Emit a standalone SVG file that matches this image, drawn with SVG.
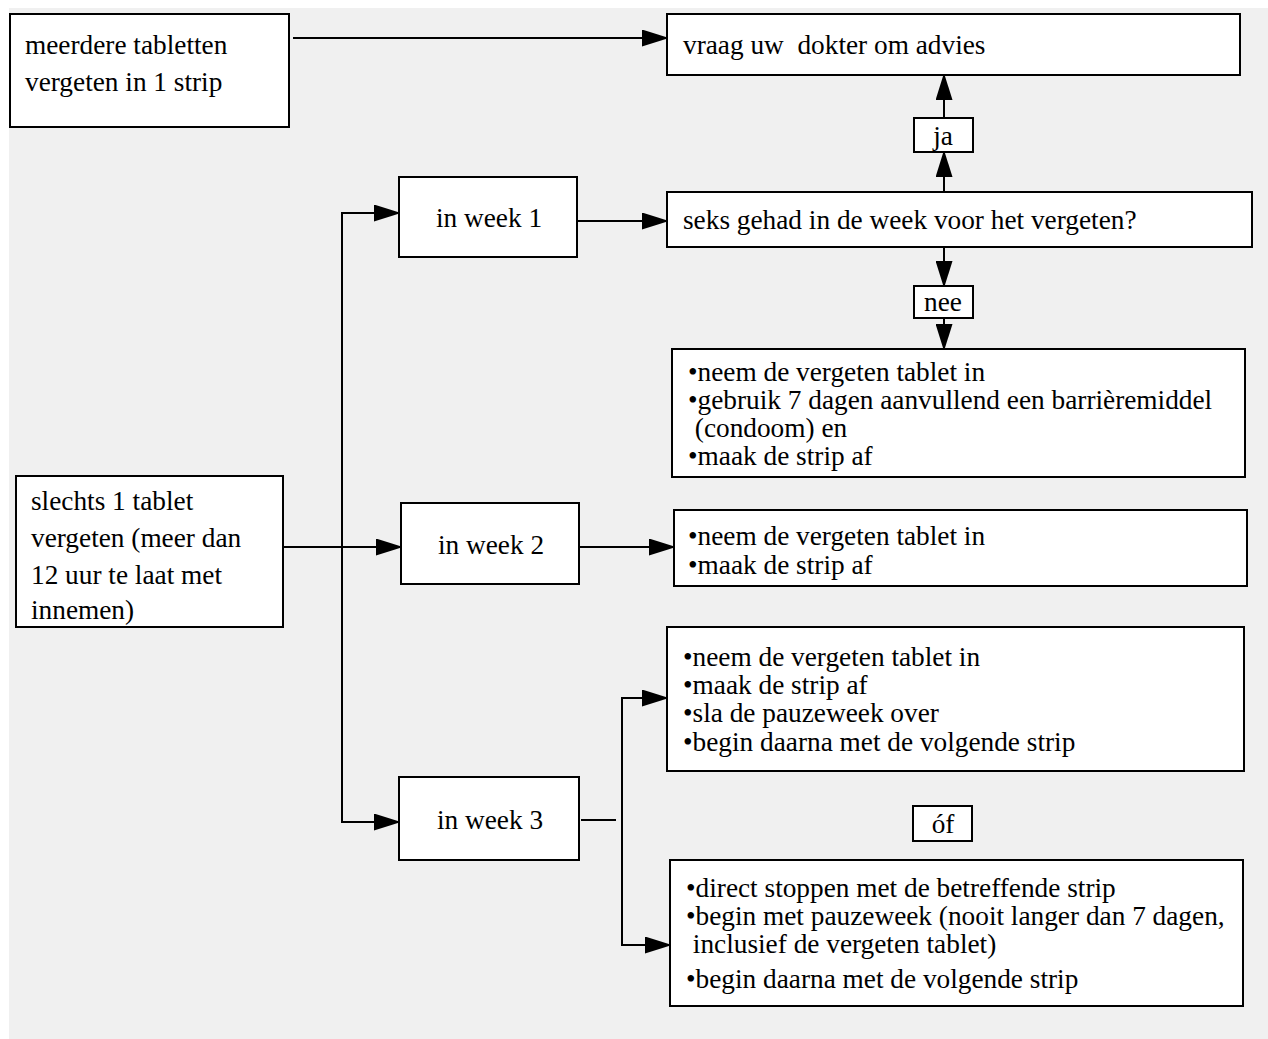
<svg xmlns="http://www.w3.org/2000/svg" width="1268" height="1039" viewBox="0 0 1268 1039">
<style>
.box{fill:#fff;stroke:#000;stroke-width:2}
.t{font-family:"Liberation Serif","Times New Roman",serif;font-size:27.3px;fill:#000}
.c{text-anchor:middle}
.ln{fill:none;stroke:#000;stroke-width:2}
</style>
<defs>
<marker id="ah" markerUnits="userSpaceOnUse" markerWidth="27" markerHeight="17" refX="25" refY="8.5" orient="auto">
<path d="M0,0 L27,8.5 L0,17 z" fill="#000"/>
</marker>
</defs>
<rect x="9" y="8" width="1259" height="1031" fill="#f0f0f0"/>
<g id="connectors">
<line class="ln" x1="293" y1="38" x2="667" y2="38" marker-end="url(#ah)"/>
<line class="ln" x1="944" y1="192" x2="944" y2="152" marker-end="url(#ah)"/>
<line class="ln" x1="944" y1="118" x2="944" y2="75" marker-end="url(#ah)"/>
<line class="ln" x1="944" y1="247" x2="944" y2="286" marker-end="url(#ah)"/>
<line class="ln" x1="944" y1="318" x2="944" y2="349" marker-end="url(#ah)"/>
<line class="ln" x1="577" y1="221" x2="667" y2="221" marker-end="url(#ah)"/>
<line class="ln" x1="283" y1="547" x2="401" y2="547" marker-end="url(#ah)"/>
<line class="ln" x1="342" y1="213" x2="342" y2="823"/>
<line class="ln" x1="341" y1="213" x2="399" y2="213" marker-end="url(#ah)"/>
<line class="ln" x1="341" y1="822" x2="399" y2="822" marker-end="url(#ah)"/>
<line class="ln" x1="579" y1="547" x2="674" y2="547" marker-end="url(#ah)"/>
<line class="ln" x1="581" y1="820" x2="616" y2="820"/>
<line class="ln" x1="622" y1="698" x2="622" y2="945"/>
<line class="ln" x1="621" y1="698" x2="667" y2="698" marker-end="url(#ah)"/>
<line class="ln" x1="621" y1="945" x2="670" y2="945" marker-end="url(#ah)"/>
</g>
<g id="meerdere">
<rect class="box" x="10" y="14" width="279" height="113"/>
<text class="t" x="25" y="54">meerdere tabletten</text>
<text class="t" x="25" y="91">vergeten in 1 strip</text>
</g>
<g id="dokter">
<rect class="box" x="667" y="14" width="573" height="61"/>
<text class="t" x="683" y="54" xml:space="preserve">vraag uw  dokter om advies</text>
</g>
<g id="ja">
<rect class="box" x="914" y="118" width="59" height="34"/>
<text class="t c" x="943" y="145">ja</text>
</g>
<g id="seks">
<rect class="box" x="667" y="192" width="585" height="55"/>
<text class="t" x="683" y="229">seks gehad in de week voor het vergeten?</text>
</g>
<g id="week1">
<rect class="box" x="399" y="177" width="178" height="80"/>
<text class="t c" x="489" y="227">in week 1</text>
</g>
<g id="nee">
<rect class="box" x="914" y="286" width="59" height="32"/>
<text class="t c" x="943" y="311">nee</text>
</g>
<g id="week1-nee">
<rect class="box" x="672" y="349" width="573" height="128"/>
<text class="t" x="688" y="381">•neem de vergeten tablet in</text>
<text class="t" x="688" y="409">•gebruik 7 dagen aanvullend een barrièremiddel</text>
<text class="t" x="688" y="437" xml:space="preserve"> (condoom) en</text>
<text class="t" x="688" y="465">•maak de strip af</text>
</g>
<g id="slechts">
<rect class="box" x="16" y="476" width="267" height="151"/>
<text class="t" x="31" y="510">slechts 1 tablet</text>
<text class="t" x="31" y="547">vergeten (meer dan</text>
<text class="t" x="31" y="584">12 uur te laat met</text>
<text class="t" x="31" y="619">innemen)</text>
</g>
<g id="week2">
<rect class="box" x="401" y="503" width="178" height="81"/>
<text class="t c" x="491" y="554">in week 2</text>
</g>
<g id="week2-actie">
<rect class="box" x="674" y="510" width="573" height="76"/>
<text class="t" x="688" y="545">•neem de vergeten tablet in</text>
<text class="t" x="688" y="574">•maak de strip af</text>
</g>
<g id="week3">
<rect class="box" x="399" y="777" width="180" height="83"/>
<text class="t c" x="490" y="829">in week 3</text>
</g>
<g id="week3-a">
<rect class="box" x="667" y="627" width="577" height="144"/>
<text class="t" x="683" y="666">•neem de vergeten tablet in</text>
<text class="t" x="683" y="694">•maak de strip af</text>
<text class="t" x="683" y="722">•sla de pauzeweek over</text>
<text class="t" x="683" y="751">•begin daarna met de volgende strip</text>
</g>
<g id="of">
<rect class="box" x="913" y="806" width="59" height="35"/>
<text class="t c" x="943" y="833">óf</text>
</g>
<g id="week3-b">
<rect class="box" x="670" y="860" width="573" height="146"/>
<text class="t" x="686" y="897">•direct stoppen met de betreffende strip</text>
<text class="t" x="686" y="925">•begin met pauzeweek (nooit langer dan 7 dagen,</text>
<text class="t" x="686" y="953" xml:space="preserve"> inclusief de vergeten tablet)</text>
<text class="t" x="686" y="988">•begin daarna met de volgende strip</text>
</g>
</svg>
